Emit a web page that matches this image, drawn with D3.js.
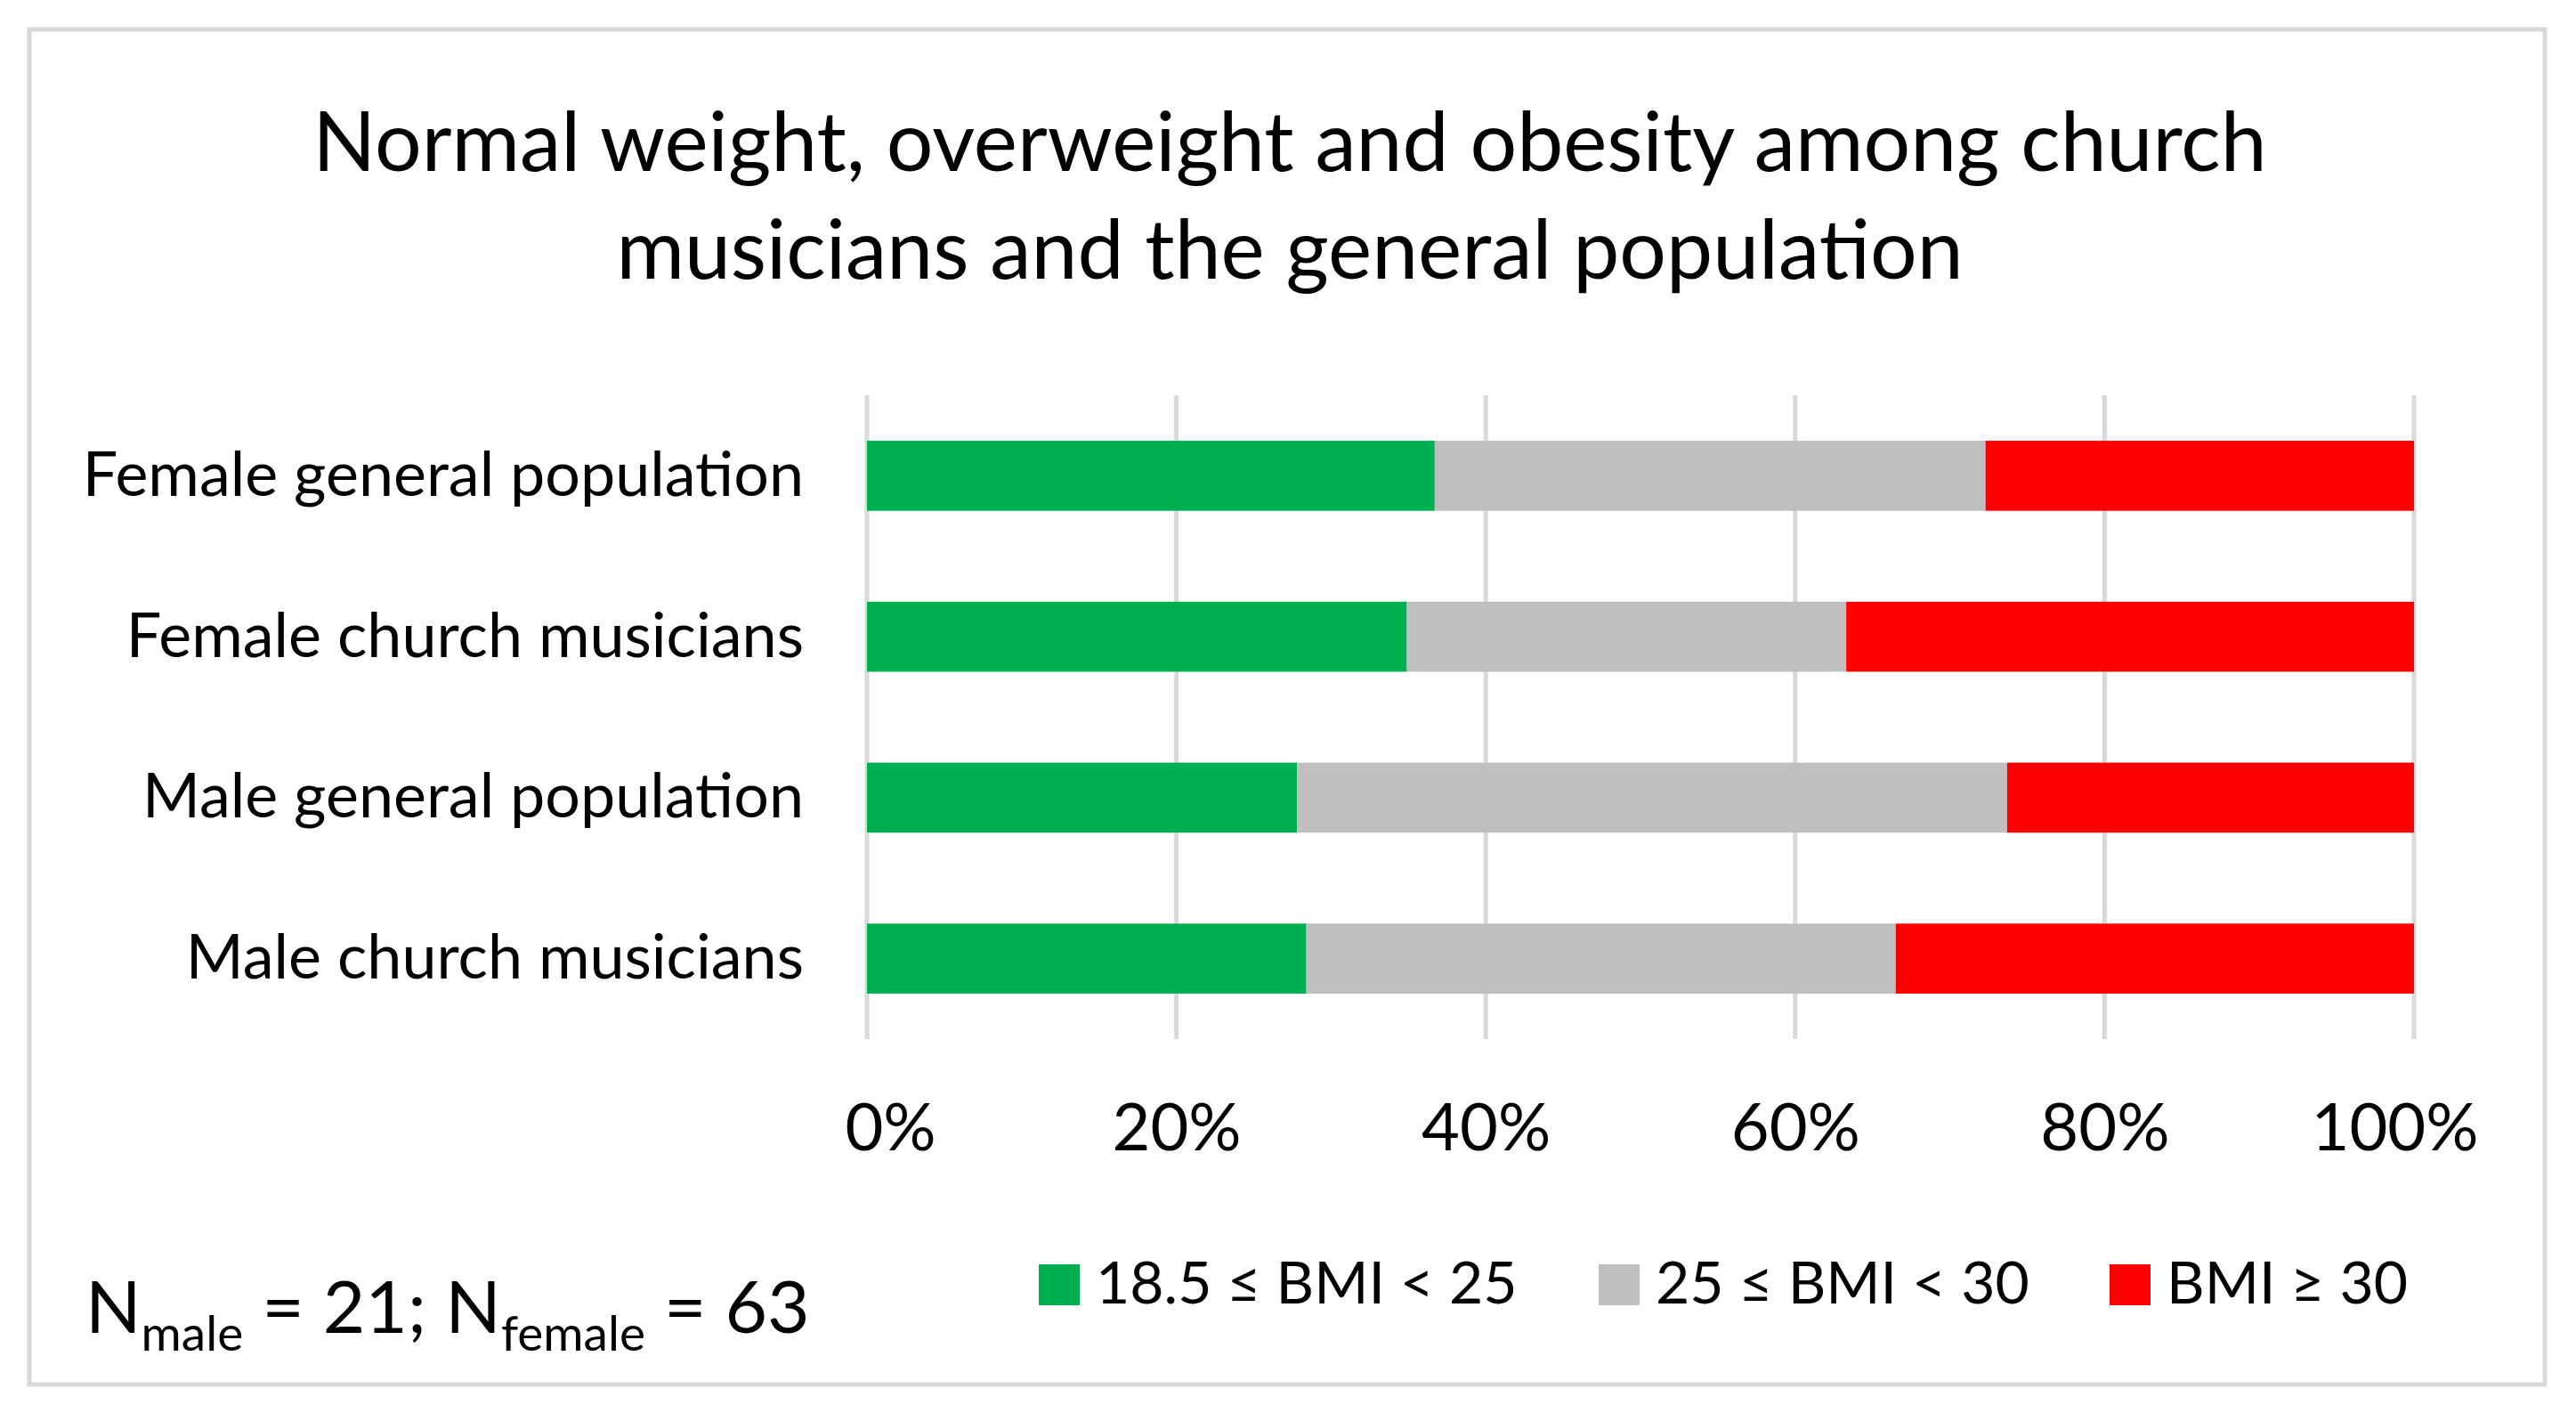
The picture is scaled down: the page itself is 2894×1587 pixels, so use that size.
<html>
  <head>
    <meta charset="utf-8">
    <style>
      body { margin: 0; background: #fff; }
      text { font-family: "Lato"; fill: #000; }
      .grid line { stroke: #d9d9d9; stroke-width: 5; }
      .axis--x text { font-size: 74px; }
      .axis--y text { font-size: 70px; }
    </style>
  </head>
<body>
  <svg width="2894" height="1587"></svg>
  <script src="https://d3js.org/d3.v7.min.js"></script>
  <script>
    var categories = ["Female general population", "Female church musicians", "Male general population", "Male church musicians"];
    var seriesNames = ["18.5 \u2264 BMI < 25", "25 \u2264 BMI < 30", "BMI \u2265 30"];
    var normalWeight = [36.7, 34.9, 27.8, 28.4];
    var overweight = [35.6, 28.4, 45.9, 38.1];
    var obesity = [27.7, 36.7, 26.3, 33.5];
    var tickValues = [0, 20, 40, 60, 80, 100];
    var colors = ["#00b050", "#bfbfbf", "#ff0000"];

    var svg = d3.select("svg");

    // chart frame
    svg.append("rect")
      .attr("x", 33).attr("y", 33)
      .attr("width", 2826).attr("height", 1522)
      .attr("fill", "#fff")
      .attr("stroke", "#d9d9d9")
      .attr("stroke-width", 5);

    var title = svg.append("text")
      .attr("text-anchor", "middle")
      .style("font-size", "93px");
    title.append("tspan").attr("x", 1449).attr("y", 192)
      .text("Normal weight, overweight and obesity among church");
    title.append("tspan").attr("x", 1449).attr("y", 313)
      .text("musicians and the general population");

    var plotLeft = 974, plotRight = 2712, plotTop = 444, plotBottom = 1167;

    var x = d3.scaleLinear().domain([0, 100]).range([plotLeft, plotRight]);
    var y = d3.scaleBand().domain(categories).range([plotTop, plotBottom])
      .paddingInner(0.565).paddingOuter(0.2825);

    // gridlines
    svg.append("g").attr("class", "grid")
      .selectAll("line")
      .data(tickValues)
      .enter().append("line")
      .attr("x1", function(d) { return x(d); })
      .attr("x2", function(d) { return x(d); })
      .attr("y1", plotTop).attr("y2", plotBottom);

    var rows = categories.map(function(c, i) {
      return {cat: c, a: normalWeight[i], b: overweight[i], c: obesity[i]};
    });
    var layers = d3.stack().keys(["a", "b", "c"])(rows);

    svg.append("g").selectAll("g")
      .data(layers)
      .enter().append("g")
      .attr("fill", function(d, i) { return colors[i]; })
      .selectAll("rect")
      .data(function(d) { return d; })
      .enter().append("rect")
      .attr("x", function(d) { return x(d[0]); })
      .attr("width", function(d) { return x(d[1]) - x(d[0]); })
      .attr("y", function(d) { return y(d.data.cat); })
      .attr("height", y.bandwidth());

    // category labels
    var yAxis = svg.append("g")
      .attr("class", "axis axis--y")
      .attr("transform", "translate(" + (plotLeft - 71) + ",0)")
      .call(d3.axisLeft(y).tickSize(0).tickPadding(0));
    yAxis.select(".domain").remove();

    // percent labels
    var xAxis = svg.append("g")
      .attr("class", "axis axis--x")
      .attr("transform", "translate(0," + (plotBottom + 72) + ")")
      .call(d3.axisBottom(x).tickValues(tickValues).tickSize(0).tickPadding(0)
        .tickFormat(function(d) { return d + "%"; }));
    xAxis.select(".domain").remove();
    xAxis.selectAll("text")
      .attr("dy", "0.71em")
      .attr("dx", function(d) { return d === 0 ? 26 : (d === 100 ? -22 : 0); });

    // legend
    var legendX = [1167, 1796, 2370];
    var legend = svg.append("g").selectAll("g")
      .data(seriesNames)
      .enter().append("g")
      .attr("transform", function(d, i) { return "translate(" + legendX[i] + ",1420)"; });
    legend.append("rect")
      .attr("width", 46).attr("height", 46)
      .attr("fill", function(d, i) { return colors[i]; });
    legend.append("text")
      .attr("x", 64).attr("y", 44)
      .style("font-size", "66px")
      .text(function(d) { return d; });

    // sample sizes
    var note = svg.append("text")
      .attr("x", 96).attr("y", 1497)
      .style("font-size", "82px");
    note.append("tspan").text("N");
    note.append("tspan").attr("dy", 20).style("font-size", "55px").text("male");
    note.append("tspan").attr("dy", -20).text(" = 21; N");
    note.append("tspan").attr("dy", 20).style("font-size", "55px").text("female");
    note.append("tspan").attr("dy", -20).text(" = 63");
  </script>
</body>
</html>
